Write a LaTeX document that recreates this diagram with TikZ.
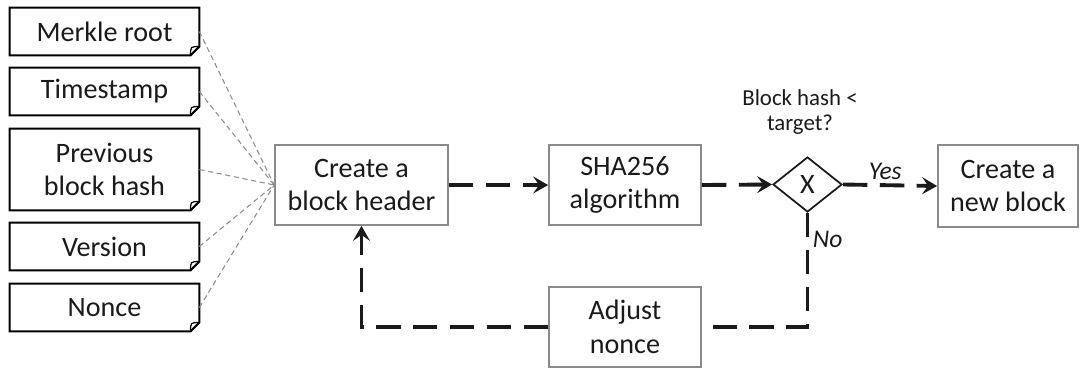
\documentclass[tikz,border=0pt]{standalone}
\usepackage{fontspec}
\setmainfont{Carlito}
\usetikzlibrary{arrows.meta,shapes.geometric}
\definecolor{Frame}{HTML}{8A8A8A}
\definecolor{Ink}{HTML}{1A1A1A}
\definecolor{Feed}{HTML}{8C8C8C}

\begin{document}
\begin{tikzpicture}[x=0.02cm, y=-0.02cm,
    font=\fontsize{16}{19}\selectfont, text=Ink,
    docbox/.style={minimum width=3.78cm, minimum height=0.94cm, inner sep=0pt, align=center},
    procbox/.style={draw=Frame, line width=1pt, minimum width=3.04cm, minimum height=1.6cm, inner sep=0pt, align=center},
    feed/.style={draw=Feed, line width=0.6pt, dash pattern=on 3pt off 2pt},
    flow/.style={draw=Ink, line width=2.2pt, dash pattern=on 14pt off 7pt, -{Stealth[length=3mm,width=3.4mm,inset=1.2mm]}},
    tag/.style={font=\fontsize{14.5}{17}\selectfont\itshape, inner sep=2pt}]
  \useasboundingbox (0,0) rectangle (1083,369);
  % header fields
  \node[docbox] (mr) at (104.5,31.5) {Merkle root};
  \node[docbox] (ts) at (104.5,91.5) {Timestamp};
  \node[docbox, minimum height=1.62cm] (pb) at (104.5,169.5) {Previous\\block hash};
  \node[docbox] (vs) at (104.5,246.5) {Version};
  \node[docbox] (nc) at (104.5,307.5) {Nonce};
  \foreach \n in {mr,ts,pb,vs,nc} {
    \draw[line width=1.2pt] (\n.north west) -- (\n.north east) -- ([yshift=5pt]\n.south east)
      -- ([xshift=-5pt]\n.south east) -- (\n.south west) -- cycle;
    \draw[line width=0.7pt] ([yshift=5pt]\n.south east) .. controls ([xshift=-5pt,yshift=5pt]\n.south east) .. ([xshift=-5pt]\n.south east);
  }
  % mining steps
  \node[procbox, minimum width=3.46cm] (hdr) at (361.5,185) {Create a\\block header};
  \node[procbox] (sha) at (625,185) {SHA256\\algorithm};
  \node[draw=Ink, line width=1pt, diamond, aspect=1.25, inner sep=0pt, minimum width=1.38cm, minimum height=1.1cm] (dec) at (807.5,184.5) {X};
  \node[font=\fontsize{13}{14.5}\selectfont, align=center] (ask) at (800,112) {Block hash <\\target?};
  \node[procbox, minimum width=2.8cm, minimum height=1.64cm] (newb) at (1008,186) {Create a\\new block};
  \node[procbox] (adj) at (625,327) {Adjust\\nonce};
  % connectors
  \foreach \n in {mr,ts,pb,vs,nc}
    \draw[feed] (\n.east) -- (hdr.west);
  \draw[flow] (hdr.east) -- (sha.west);
  \draw[flow] (sha.east) -- (dec.west);
  \draw[flow] (dec.east) -- node[tag, above, pos=0.45] {Yes} (newb.west);
  \draw[flow, -] (dec.south) -- node[tag, right, pos=0.23] {No} (dec.south |- adj.east) -- (adj.east);
  \draw[flow] (adj.west) -- (hdr.south |- adj.west) -- (hdr.south);
\end{tikzpicture}
\end{document}
